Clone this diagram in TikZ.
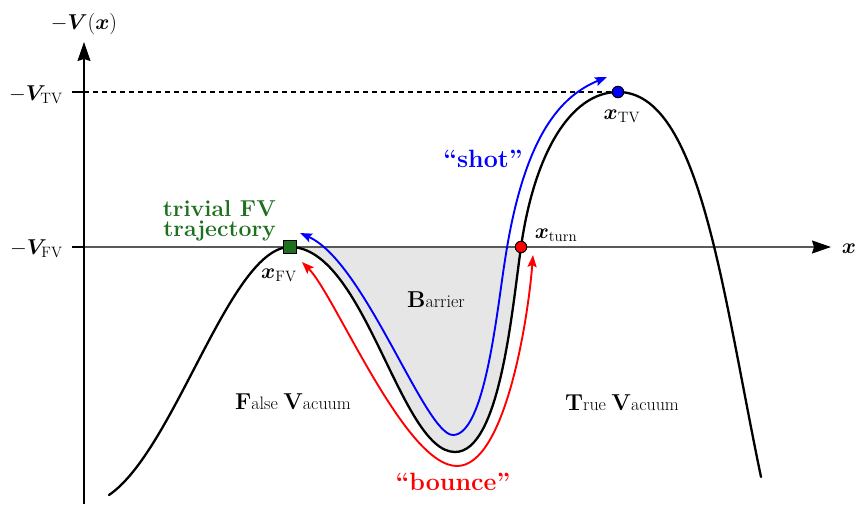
\RequirePackage{fix-cm}
\documentclass[tikz,border=0pt]{standalone}
\usepackage{amsmath,bm}
\usetikzlibrary{arrows.meta}
\definecolor{fvgreen}{RGB}{30,112,30}
\definecolor{barriergray}{RGB}{230,230,230}
\newcommand{\myfs}[1]{\fontsize{#1}{#1}\selectfont}
\newcommand{\ini}[1]{{\myfs{23}\textbf{#1}}}
\begin{document}
\begin{tikzpicture}[x=1pt,y=-1pt,
  axisline/.style={line width=1.3pt},
  bigtip/.style={-{Stealth[length=19pt,width=13pt,inset=2pt,color=black]}},
  pot/.style={line width=2.3pt,line cap=round},
  traj/.style={line width=1.9pt,{Stealth[length=12pt,width=9pt,inset=2pt]}-{Stealth[length=12pt,width=9pt,inset=2pt]}},
  regionlbl/.style={font=\myfs{18},inner sep=0pt},
  mathlbl/.style={font=\myfs{21.5},inner sep=0pt},
  quotelbl/.style={font=\myfs{25}\bfseries,inner sep=0pt},
  greenlbl/.style={font=\myfs{23}\bfseries,text=fvgreen,anchor=base east,inner sep=0pt},
  dot/.style={circle,draw=black,line width=1pt,minimum size=11.5pt,inner sep=0pt},
  sqmark/.style={rectangle,draw=black,line width=1pt,fill=fvgreen,minimum size=13pt,inner sep=0pt}]
\useasboundingbox (0,0) rectangle (858,504);

% coordinates
\coordinate (ybot) at (84,504);
\coordinate (ytop) at (84,42);
\coordinate (xleft) at (84,247);
\coordinate (xright) at (831,247);
\coordinate (ttv) at (72,92);
\coordinate (ttvend) at (84,92);
\coordinate (tfv) at (72,247);
\coordinate (tfvend) at (84,247);
\coordinate (bs) at (300,233);
\coordinate (be) at (607,77);
\coordinate (rs) at (302,262);
\coordinate (re) at (533,255);

% barrier region
\fill[barriergray] (290,247) .. controls (365,247) and (400,452) .. (455,452)
  .. controls (500,452) and (512,310) .. (521,247) -- cycle;

% axes
\draw[axisline,black!65,bigtip] (xleft) -- (xright);
\draw[axisline,bigtip] (ybot) -- (ytop);
\draw[axisline] (ttv) -- (ttvend);
\draw[axisline] (tfv) -- (tfvend);
\draw[line width=1.1pt,dash pattern=on 5pt off 4pt] (ttvend) -- (618,92);

% potential
\draw[pot] (109,495) .. controls (175,450) and (230,247) .. (290,247)
  .. controls (365,247) and (400,452) .. (455,452)
  .. controls (500,452) and (512,310) .. (521,247)
  .. controls (534,155) and (570,92) .. (618,92)
  .. controls (700,92) and (722,290) .. (761,477);

% trajectories
\draw[traj,blue] (bs) .. controls (365,262) and (425,435) .. (453,435)
  .. controls (485,435) and (497,310) .. (505,260)
  .. controls (524,135) and (561,96) .. (be);
\draw[traj,red] (rs) .. controls (335,295) and (405,466) .. (457,466)
  .. controls (505,466) and (528,320) .. (re);

% markers
\node[sqmark] (xfv) at (290,247) {};
\node[dot,fill=red] (xturn) at (521,247) {};
\node[dot,fill=blue] (xtv) at (618,92) {};

% labels
\node[mathlbl,anchor=base] (ylab) at (84,29) {$-\bm{V}(\bm{x})$};
\node[mathlbl,anchor=base] (xlab) at (849,253) {$\bm{x}$};
\node[mathlbl,anchor=base east] (vtv) at (63,100) {$-\bm{V}_{\mathrm{TV}}$};
\node[mathlbl,anchor=base east] (vfv) at (63,254) {$-\bm{V}_{\mathrm{FV}}$};
\node[mathlbl,anchor=base] (xfvlab) at (279,278) {$\bm{x}_{\mathrm{FV}}$};
\node[mathlbl,anchor=base] (xtvlab) at (622,119) {$\bm{x}_{\mathrm{TV}}$};
\node[mathlbl,anchor=base] (xturnlab) at (556,238) {$\bm{x}_{\mathrm{turn}}$};
\node[greenlbl] (triv1) at (276,216) {trivial FV};
\node[greenlbl] (triv2) at (276,236) {trajectory};
\node[quotelbl,text=blue,anchor=base] (shot) at (483,167) {``shot''};
\node[quotelbl,text=red,anchor=base] (bounce) at (453,490) {``bounce''};
\node[regionlbl,anchor=base] (barrier) at (436,307) {\ini{B}arrier};
\node[regionlbl,anchor=base] (fvac) at (293,409) {\ini{F}alse \ini{V}acuum};
\node[regionlbl,anchor=base] (tvac) at (622,410) {\ini{T}rue \ini{V}acuum};
\end{tikzpicture}
\end{document}
